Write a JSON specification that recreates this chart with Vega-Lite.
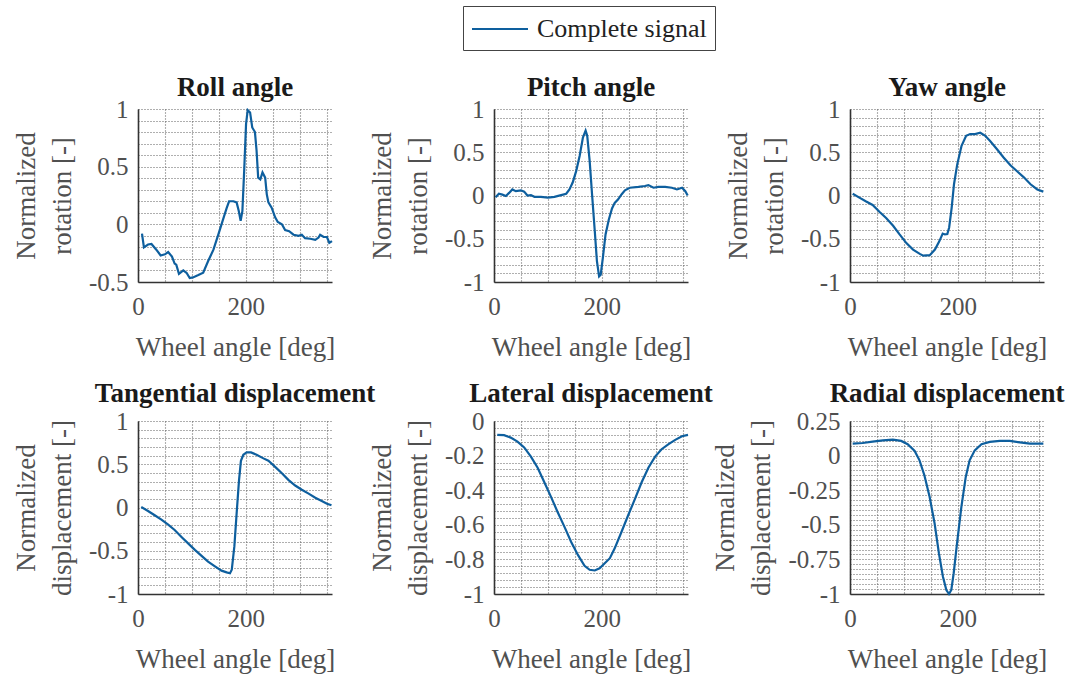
{
  "$schema": "https://vega.github.io/schema/vega-lite/v6.json",
  "padding": {"left": 12, "top": 5, "right": 5, "bottom": 5},
  "background": "white",
  "bounds": "flush",
  "columns": 3,
  "spacing": {"row": 139, "column": 162},
  "resolve": {"scale": {"color": "shared"}, "legend": {"color": "shared"}},
  "datasets": {
    "roll": [
      {"angle": 7.4, "value": -0.08}, {"angle": 11, "value": -0.2}, {"angle": 18.6, "value": -0.175}, {"angle": 25, "value": -0.17},
      {"angle": 34, "value": -0.22}, {"angle": 42, "value": -0.27}, {"angle": 50, "value": -0.26}, {"angle": 56, "value": -0.24},
      {"angle": 63, "value": -0.28}, {"angle": 68, "value": -0.34}, {"angle": 71, "value": -0.35}, {"angle": 76, "value": -0.43},
      {"angle": 84, "value": -0.4}, {"angle": 90, "value": -0.42}, {"angle": 96, "value": -0.465}, {"angle": 102, "value": -0.46},
      {"angle": 112, "value": -0.44}, {"angle": 121, "value": -0.42}, {"angle": 130, "value": -0.32}, {"angle": 140, "value": -0.22},
      {"angle": 149, "value": -0.09}, {"angle": 157, "value": 0.03}, {"angle": 164.5, "value": 0.14}, {"angle": 169, "value": 0.2},
      {"angle": 177, "value": 0.2}, {"angle": 183, "value": 0.19}, {"angle": 187, "value": 0.115}, {"angle": 190.5, "value": 0.03},
      {"angle": 193.7, "value": 0.115}, {"angle": 197, "value": 0.46}, {"angle": 200.5, "value": 0.87}, {"angle": 203.6, "value": 0.99},
      {"angle": 208, "value": 0.97}, {"angle": 212, "value": 0.84}, {"angle": 217, "value": 0.8}, {"angle": 220, "value": 0.64},
      {"angle": 223, "value": 0.405}, {"angle": 227, "value": 0.39}, {"angle": 231, "value": 0.45}, {"angle": 236, "value": 0.405},
      {"angle": 239, "value": 0.26}, {"angle": 242, "value": 0.19}, {"angle": 248, "value": 0.145}, {"angle": 254.5, "value": 0.06},
      {"angle": 259.4, "value": 0.02}, {"angle": 267, "value": 0.0}, {"angle": 273, "value": -0.05}, {"angle": 280.5, "value": -0.06},
      {"angle": 288.6, "value": -0.09}, {"angle": 298, "value": -0.1}, {"angle": 304, "value": -0.09}, {"angle": 310, "value": -0.12},
      {"angle": 319.7, "value": -0.125}, {"angle": 329, "value": -0.135}, {"angle": 335, "value": -0.115}, {"angle": 338, "value": -0.09},
      {"angle": 344.5, "value": -0.11}, {"angle": 350.6, "value": -0.11}, {"angle": 355, "value": -0.16}, {"angle": 360, "value": -0.145}
    ],
    "pitch": [
      {"angle": 3, "value": -0.02}, {"angle": 9, "value": 0.02}, {"angle": 15.6, "value": 0.01}, {"angle": 22, "value": -0.005},
      {"angle": 28, "value": 0.03}, {"angle": 34, "value": 0.07}, {"angle": 40.5, "value": 0.05}, {"angle": 50, "value": 0.06},
      {"angle": 56, "value": 0.045}, {"angle": 62, "value": 0.0}, {"angle": 68.5, "value": 0.005}, {"angle": 75, "value": -0.015},
      {"angle": 87, "value": -0.015}, {"angle": 100, "value": -0.025}, {"angle": 112, "value": -0.015}, {"angle": 124.6, "value": 0.005},
      {"angle": 134, "value": 0.02}, {"angle": 140, "value": 0.07}, {"angle": 146, "value": 0.15}, {"angle": 152.6, "value": 0.285},
      {"angle": 159, "value": 0.46}, {"angle": 165, "value": 0.67}, {"angle": 170, "value": 0.75}, {"angle": 173, "value": 0.69},
      {"angle": 177.5, "value": 0.4}, {"angle": 182, "value": 0.01}, {"angle": 187, "value": -0.41}, {"angle": 191, "value": -0.76},
      {"angle": 195, "value": -0.935}, {"angle": 198, "value": -0.915}, {"angle": 202, "value": -0.72}, {"angle": 207, "value": -0.45},
      {"angle": 213, "value": -0.28}, {"angle": 219, "value": -0.15}, {"angle": 224, "value": -0.085}, {"angle": 230.4, "value": -0.045},
      {"angle": 237, "value": 0.015}, {"angle": 243, "value": 0.06}, {"angle": 252, "value": 0.09}, {"angle": 268, "value": 0.1},
      {"angle": 280, "value": 0.11}, {"angle": 286.5, "value": 0.12}, {"angle": 296, "value": 0.09}, {"angle": 305, "value": 0.1},
      {"angle": 317.6, "value": 0.1}, {"angle": 330, "value": 0.09}, {"angle": 339.5, "value": 0.07}, {"angle": 349, "value": 0.09},
      {"angle": 355, "value": 0.05}, {"angle": 359.4, "value": 0.0}
    ],
    "yaw": [
      {"angle": 5, "value": 0.02}, {"angle": 17.4, "value": -0.025}, {"angle": 30, "value": -0.07}, {"angle": 42, "value": -0.11},
      {"angle": 55, "value": -0.19}, {"angle": 67, "value": -0.26}, {"angle": 80, "value": -0.35}, {"angle": 92, "value": -0.45},
      {"angle": 104.6, "value": -0.55}, {"angle": 117, "value": -0.625}, {"angle": 129.5, "value": -0.675}, {"angle": 136, "value": -0.695},
      {"angle": 148, "value": -0.69}, {"angle": 157.6, "value": -0.625}, {"angle": 165.7, "value": -0.53}, {"angle": 172, "value": -0.44},
      {"angle": 176, "value": -0.45}, {"angle": 180.6, "value": -0.445}, {"angle": 184, "value": -0.37}, {"angle": 188.7, "value": -0.14},
      {"angle": 193, "value": 0.13}, {"angle": 199, "value": 0.36}, {"angle": 207, "value": 0.575}, {"angle": 215.5, "value": 0.69},
      {"angle": 223, "value": 0.71}, {"angle": 232, "value": 0.71}, {"angle": 241.7, "value": 0.725}, {"angle": 251, "value": 0.69},
      {"angle": 260, "value": 0.63}, {"angle": 272.8, "value": 0.535}, {"angle": 285, "value": 0.44}, {"angle": 297.7, "value": 0.35},
      {"angle": 310, "value": 0.28}, {"angle": 322.6, "value": 0.21}, {"angle": 335, "value": 0.13}, {"angle": 347.5, "value": 0.07},
      {"angle": 358.8, "value": 0.045}
    ],
    "tang": [
      {"angle": 6, "value": 0.006}, {"angle": 18.6, "value": -0.04}, {"angle": 31, "value": -0.09}, {"angle": 43.4, "value": -0.14},
      {"angle": 56, "value": -0.197}, {"angle": 68, "value": -0.26}, {"angle": 80.7, "value": -0.34}, {"angle": 93, "value": -0.415},
      {"angle": 105.5, "value": -0.49}, {"angle": 118, "value": -0.56}, {"angle": 130, "value": -0.625}, {"angle": 142.8, "value": -0.68},
      {"angle": 155, "value": -0.73}, {"angle": 164.5, "value": -0.75}, {"angle": 170.7, "value": -0.76}, {"angle": 174, "value": -0.72},
      {"angle": 178.8, "value": -0.45}, {"angle": 183, "value": -0.07}, {"angle": 187.4, "value": 0.31}, {"angle": 191, "value": 0.54},
      {"angle": 195.5, "value": 0.61}, {"angle": 201.7, "value": 0.637}, {"angle": 209.8, "value": 0.637}, {"angle": 220, "value": 0.61},
      {"angle": 232.8, "value": 0.568}, {"angle": 242, "value": 0.54}, {"angle": 254.5, "value": 0.47}, {"angle": 267, "value": 0.396},
      {"angle": 279, "value": 0.32}, {"angle": 291.7, "value": 0.254}, {"angle": 304, "value": 0.205}, {"angle": 316.6, "value": 0.16},
      {"angle": 329, "value": 0.113}, {"angle": 341, "value": 0.075}, {"angle": 350.7, "value": 0.044}, {"angle": 359, "value": 0.025}
    ],
    "lat": [
      {"angle": 6, "value": -0.08}, {"angle": 18.7, "value": -0.082}, {"angle": 31, "value": -0.096}, {"angle": 43.6, "value": -0.119},
      {"angle": 56, "value": -0.153}, {"angle": 68.5, "value": -0.206}, {"angle": 81, "value": -0.27}, {"angle": 93.4, "value": -0.354},
      {"angle": 106, "value": -0.44}, {"angle": 118, "value": -0.526}, {"angle": 130.8, "value": -0.612}, {"angle": 143, "value": -0.698},
      {"angle": 155.7, "value": -0.774}, {"angle": 168, "value": -0.837}, {"angle": 177.5, "value": -0.86}, {"angle": 187, "value": -0.864},
      {"angle": 196, "value": -0.851}, {"angle": 205.5, "value": -0.822}, {"angle": 215, "value": -0.793}, {"angle": 224, "value": -0.736},
      {"angle": 236.7, "value": -0.64}, {"angle": 249, "value": -0.545}, {"angle": 261.6, "value": -0.45}, {"angle": 274, "value": -0.354},
      {"angle": 286.5, "value": -0.27}, {"angle": 299, "value": -0.206}, {"angle": 311, "value": -0.163}, {"angle": 324, "value": -0.134},
      {"angle": 336.3, "value": -0.109}, {"angle": 348.8, "value": -0.088}, {"angle": 360, "value": -0.08}
    ],
    "rad": [
      {"angle": 5, "value": 0.0865}, {"angle": 23.6, "value": 0.091}, {"angle": 42, "value": 0.101}, {"angle": 61, "value": 0.11},
      {"angle": 79.4, "value": 0.115}, {"angle": 95, "value": 0.106}, {"angle": 107, "value": 0.082}, {"angle": 120, "value": 0.034},
      {"angle": 129, "value": -0.034}, {"angle": 138, "value": -0.142}, {"angle": 147.7, "value": -0.298}, {"angle": 157, "value": -0.49},
      {"angle": 165, "value": -0.707}, {"angle": 172.5, "value": -0.875}, {"angle": 178.8, "value": -0.971}, {"angle": 183.7, "value": -1.0},
      {"angle": 188, "value": -0.971}, {"angle": 192.4, "value": -0.85}, {"angle": 198.6, "value": -0.635}, {"angle": 206.7, "value": -0.37},
      {"angle": 214.8, "value": -0.154}, {"angle": 222, "value": -0.034}, {"angle": 231.5, "value": 0.038}, {"angle": 244, "value": 0.082},
      {"angle": 259.4, "value": 0.099}, {"angle": 278, "value": 0.106}, {"angle": 296.7, "value": 0.106}, {"angle": 315, "value": 0.096},
      {"angle": 334, "value": 0.0865}, {"angle": 358.8, "value": 0.0865}
    ]
  },
  "config": {
    "view": {"stroke": null},
    "font": "Liberation Serif",
    "axis": {
      "labelFont": "Liberation Serif", "labelFontSize": 25, "labelColor": "#505050",
      "titleFont": "Liberation Serif", "titleFontSize": 27, "titleFontWeight": "normal", "titleColor": "#505050",
      "domainColor": "#333333", "domainWidth": 1.6, "ticks": false,
      "grid": true, "gridColor": "#606060", "gridDash": [1, 2], "gridWidth": 1.1, "gridOpacity": 1,
      "labelFlush": false, "labelOverlap": false, "labelBound": false
    },
    "axisX": {"labelPadding": 12, "titlePadding": 15},
    "axisY": {"labelPadding": 10, "titlePadding": 12, "titleLineHeight": 36},
    "title": {"font": "Liberation Serif", "fontSize": 27, "fontWeight": "bold", "color": "#1a1a1a", "frame": "group", "anchor": "middle", "baseline": "alphabetic", "offset": -5},
    "legend": {"labelFont": "Liberation Serif", "labelFontSize": 26, "labelColor": "#222222", "labelLimit": 400}
  },
  "concat": [
    {
      "title": "Roll angle", "width": 194, "height": 173, "data": {"name": "roll"},
      "mark": {"type": "line", "strokeWidth": 2.2},
      "encoding": {
        "x": {"field": "angle", "type": "quantitative", "scale": {"domain": [0, 360], "nice": false, "zero": false},
              "axis": {"title": "Wheel angle [deg]", "values": [0, 50, 100, 150, 200, 250, 300, 350], "labelExpr": "datum.value % 200 == 0 ? datum.label : ''"}},
        "y": {"field": "value", "type": "quantitative", "scale": {"domain": [-0.5, 1], "nice": false, "zero": false},
              "axis": {"title": ["Normalized", "rotation [-]"], "values": [-0.5, -0.4, -0.3, -0.2, -0.1, 0, 0.1, 0.2, 0.3, 0.4, 0.5, 0.6, 0.7, 0.8, 0.9, 1],
                       "labelExpr": "abs(datum.value*2 - round(datum.value*2)) < 1e-6 ? toString(datum.value) : ''"}},
        "color": {"datum": "Complete signal", "type": "nominal", "scale": {"range": ["#0e5f9e"]},
                  "legend": {"title": null, "orient": "none", "legendX": 325, "legendY": -103, "symbolType": "M-2,0H2", "symbolSize": 784, "symbolStrokeWidth": 2, "symbolOffset": 14, "strokeColor": "#444444", "fillColor": "white", "padding": 8, "labelOffset": 22}}
      }
    },
    {
      "title": "Pitch angle", "width": 194, "height": 173, "data": {"name": "pitch"},
      "mark": {"type": "line", "strokeWidth": 2.2},
      "encoding": {
        "x": {"field": "angle", "type": "quantitative", "scale": {"domain": [0, 360], "nice": false, "zero": false},
              "axis": {"title": "Wheel angle [deg]", "values": [0, 50, 100, 150, 200, 250, 300, 350], "labelExpr": "datum.value % 200 == 0 ? datum.label : ''"}},
        "y": {"field": "value", "type": "quantitative", "scale": {"domain": [-1, 1], "nice": false, "zero": false},
              "axis": {"title": ["Normalized", "rotation [-]"], "values": [-1, -0.9, -0.8, -0.7, -0.6, -0.5, -0.4, -0.3, -0.2, -0.1, 0, 0.1, 0.2, 0.3, 0.4, 0.5, 0.6, 0.7, 0.8, 0.9, 1],
                       "labelExpr": "abs(datum.value*2 - round(datum.value*2)) < 1e-6 ? toString(datum.value) : ''"}},
        "color": {"datum": "Complete signal", "type": "nominal"}
      }
    },
    {
      "title": "Yaw angle", "width": 194, "height": 173, "data": {"name": "yaw"},
      "mark": {"type": "line", "strokeWidth": 2.2},
      "encoding": {
        "x": {"field": "angle", "type": "quantitative", "scale": {"domain": [0, 360], "nice": false, "zero": false},
              "axis": {"title": "Wheel angle [deg]", "values": [0, 50, 100, 150, 200, 250, 300, 350], "labelExpr": "datum.value % 200 == 0 ? datum.label : ''"}},
        "y": {"field": "value", "type": "quantitative", "scale": {"domain": [-1, 1], "nice": false, "zero": false},
              "axis": {"title": ["Normalized", "rotation [-]"], "values": [-1, -0.9, -0.8, -0.7, -0.6, -0.5, -0.4, -0.3, -0.2, -0.1, 0, 0.1, 0.2, 0.3, 0.4, 0.5, 0.6, 0.7, 0.8, 0.9, 1],
                       "labelExpr": "abs(datum.value*2 - round(datum.value*2)) < 1e-6 ? toString(datum.value) : ''"}},
        "color": {"datum": "Complete signal", "type": "nominal"}
      }
    },
    {
      "title": {"text": "Tangential displacement", "offset": 1}, "width": 194, "height": 173, "data": {"name": "tang"},
      "mark": {"type": "line", "strokeWidth": 2.2},
      "encoding": {
        "x": {"field": "angle", "type": "quantitative", "scale": {"domain": [0, 360], "nice": false, "zero": false},
              "axis": {"title": "Wheel angle [deg]", "values": [0, 50, 100, 150, 200, 250, 300, 350], "labelExpr": "datum.value % 200 == 0 ? datum.label : ''"}},
        "y": {"field": "value", "type": "quantitative", "scale": {"domain": [-1, 1], "nice": false, "zero": false},
              "axis": {"title": ["Normalized", "displacement [-]"], "values": [-1, -0.9, -0.8, -0.7, -0.6, -0.5, -0.4, -0.3, -0.2, -0.1, 0, 0.1, 0.2, 0.3, 0.4, 0.5, 0.6, 0.7, 0.8, 0.9, 1],
                       "labelExpr": "abs(datum.value*2 - round(datum.value*2)) < 1e-6 ? toString(datum.value) : ''"}},
        "color": {"datum": "Complete signal", "type": "nominal"}
      }
    },
    {
      "title": {"text": "Lateral displacement", "offset": 1}, "width": 194, "height": 173, "data": {"name": "lat"},
      "mark": {"type": "line", "strokeWidth": 2.2},
      "encoding": {
        "x": {"field": "angle", "type": "quantitative", "scale": {"domain": [0, 360], "nice": false, "zero": false},
              "axis": {"title": "Wheel angle [deg]", "values": [0, 50, 100, 150, 200, 250, 300, 350], "labelExpr": "datum.value % 200 == 0 ? datum.label : ''"}},
        "y": {"field": "value", "type": "quantitative", "scale": {"domain": [-1, 0], "nice": false, "zero": false},
              "axis": {"title": ["Normalized", "displacement [-]"], "values": [-1, -0.96, -0.92, -0.88, -0.84, -0.8, -0.76, -0.72, -0.68, -0.64, -0.6, -0.56, -0.52, -0.48, -0.44, -0.4, -0.36, -0.32, -0.28, -0.24, -0.2, -0.16, -0.12, -0.08, -0.04, 0],
                       "labelExpr": "abs(datum.value*5 - round(datum.value*5)) < 1e-6 ? toString(datum.value) : ''"}},
        "color": {"datum": "Complete signal", "type": "nominal"}
      }
    },
    {
      "title": {"text": "Radial displacement", "offset": 1}, "width": 194, "height": 173, "data": {"name": "rad"},
      "mark": {"type": "line", "strokeWidth": 2.2},
      "encoding": {
        "x": {"field": "angle", "type": "quantitative", "scale": {"domain": [0, 360], "nice": false, "zero": false},
              "axis": {"title": "Wheel angle [deg]", "values": [0, 50, 100, 150, 200, 250, 300, 350], "labelExpr": "datum.value % 200 == 0 ? datum.label : ''"}},
        "y": {"field": "value", "type": "quantitative", "scale": {"domain": [-1, 0.25], "nice": false, "zero": false},
              "axis": {"title": ["Normalized", "displacement [-]"], "values": [0.25, 0.2143, 0.1786, 0.1429, 0.1071, 0.0714, 0.0357, 0, -0.0357, -0.0714, -0.1071, -0.1429, -0.1786, -0.2143, -0.25, -0.2857, -0.3214, -0.3571, -0.3929, -0.4286, -0.4643, -0.5, -0.5357, -0.5714, -0.6071, -0.6429, -0.6786, -0.7143, -0.75, -0.7857, -0.8214, -0.8571, -0.8929, -0.9286, -0.9643, -1],
                       "labelExpr": "abs(datum.value*4 - round(datum.value*4)) < 1e-6 ? toString(datum.value) : ''"}},
        "color": {"datum": "Complete signal", "type": "nominal"}
      }
    }
  ]
}
